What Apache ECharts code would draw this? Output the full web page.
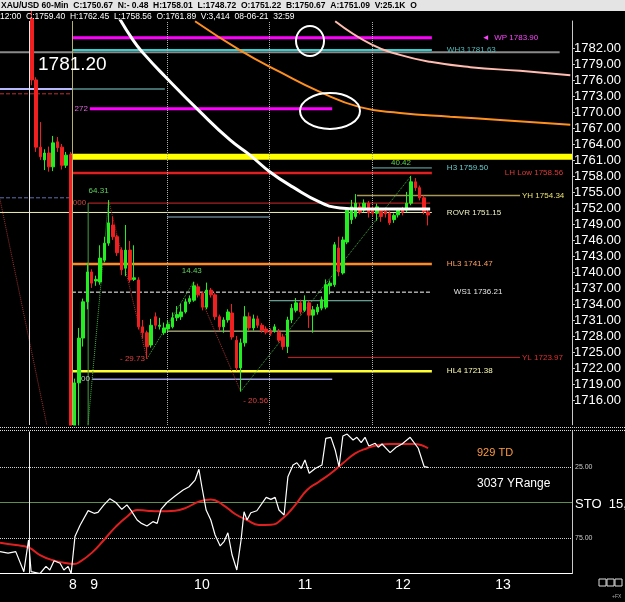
<!DOCTYPE html>
<html>
<head>
<meta charset="utf-8">
<script src="https://cdn.jsdelivr.net/npm/echarts@6/dist/echarts.min.js"></script>
<style>
  html, body { margin: 0; padding: 0; background: #000; }
  #main { width: 625px; height: 602px; }
</style>
</head>
<body>
<div id="main"></div>
<script>
// hourly bars, index 0 = first visible candle
const openPx = [1787.5,1776,1763.4,1761,1762.3,1759.7,1764.4,1763.4,1760,1762,1706,1719.2,1727.6,1734.4,1740,1738.3,1738.1,1742.2,1745.4,1748.8,1746.6,1744.1,1740.7,1744.1,1738.6,1738.5,1729.7,1728.6,1726.3,1731.6,1729.8,1728.6,1729.3,1729.7,1731.4,1731.6,1732.5,1734.4,1734.7,1737.2,1736,1733.4,1736.6,1735.7,1731.6,1729.7,1731,1732.3,1727.2,1722,1726.7,1731.6,1729.5,1731.2,1730,1729.3,1728.9,1729,1728.7,1727.8,1726,1731,1732.8,1734.2,1732.8,1734.2,1731.9,1732.5,1733.2,1733.4,1737.4,1737.6,1744.5,1739.8,1745.6,1749.8,1750.4,1752.2,1751.6,1752.9,1751.6,1751,1751.6,1751.4,1751,1749.8,1750.7,1751.8,1751.6,1752.9,1756.9,1755.8,1753.9,1751.22];
const closePx = [1776,1763.4,1761.6,1762.3,1759.7,1764.2,1763.3,1760,1761.9,1706,1719.2,1727.6,1734.4,1740,1737.9,1738.6,1742.6,1745.4,1749.2,1746.6,1743.6,1740.4,1744.1,1738.5,1738.9,1729.7,1728.6,1726,1730,1730,1730,1729.5,1730.2,1731.4,1732,1732.5,1734.4,1735,1737.4,1735.7,1733.4,1736.6,1735.7,1731.6,1729.7,1731,1732.5,1727.8,1722,1726.7,1731.6,1729.5,1731.2,1730,1729.1,1728.7,1728.5,1729.7,1727.2,1726,1731,1733.2,1734.2,1732.5,1734.6,1731.9,1732.9,1733.4,1734.8,1737.6,1737.9,1745.1,1740,1746,1751.6,1752.2,1752.9,1751.2,1752.9,1751.1,1751,1752.2,1750.4,1750.9,1749.2,1750.6,1751.6,1751.2,1752.9,1756.9,1755.8,1753.9,1751.3,1750.67];
const lowPx = [1775,1762.5,1761,1759.1,1758.8,1758.9,1762.5,1759.2,1759.5,1700,1689.14,1711,1726,1733,1737,1737.4,1737.6,1741.8,1744.9,1746,1743,1739.4,1739.2,1738,1738.3,1729.2,1727.5,1723.72,1725.8,1729.3,1729.2,1728.2,1728.8,1729.4,1730.8,1731,1732.2,1734,1734.4,1735.2,1732.8,1733,1735.2,1731,1729,1728.6,1730.5,1727.3,1721.5,1717.59,1726,1729,1729,1729.5,1728.6,1728.3,1728,1728.6,1726.8,1725.4,1724.8,1730.4,1732.4,1732,1732.5,1729.5,1728.6,1732,1732.8,1733,1735.8,1737.2,1739.2,1739.5,1745.2,1749,1750,1750.8,1751.2,1750.2,1750.4,1749.6,1749.4,1750.2,1748.8,1749.2,1750.2,1750.6,1751.2,1752.5,1755.2,1753.4,1750.8,1748.72];
const highPx = [1789,1776.5,1768.1,1763,1763.5,1765.5,1765.3,1764,1762.5,1762.5,1720,1729.5,1735,1741.7,1740.5,1739.3,1745,1746.6,1753.45,1750.4,1747,1744.6,1748.8,1745.8,1745,1739,1731,1729,1731.2,1732.4,1731.4,1730.5,1731,1732.4,1733.6,1734,1735,1735.6,1738.15,1737.8,1736.4,1738,1737,1736,1732,1731.5,1733,1734,1728,1727.5,1733.6,1732.4,1732,1731.8,1730.4,1729.8,1729.4,1730.2,1729.3,1728.4,1731.6,1734,1735.1,1734.8,1735.6,1734.6,1733.6,1734,1735.4,1738.6,1738.4,1745.6,1746.6,1746.6,1752,1753.5,1754.6,1752.9,1753.6,1753.3,1752.4,1752.8,1752,1752,1751.4,1751,1752,1752.2,1755,1758.01,1757.6,1756.2,1754.3,1751.8];

const lastPrice = 1750.67;
const priceTicks = [1716,1719,1722,1725,1728,1731,1734,1737,1740,1743,1746,1749,1752,1755,1758,1761,1764,1767,1770,1773,1776,1779,1782];
const dayLabels = ['8', '9', '10', '11', '12', '13'];
const dayAt = [9.6, 14.6, 39.9, 64.1, 87.1, 110.6];
const sessionBreaks = [31.7, 55.7, 79.9];
const cursorAt = -0.7;

// moving averages [bar, price]
const whiteMA = [[19.5,1789],[23.7,1783.5],[26.5,1780.7],[31.2,1776.7],[39.5,1770],[46.5,1764.75],[51.2,1761.9],[55.9,1758.75],[61.3,1755.9],[67.6,1753.1],[72.3,1752],[77,1751.8],[93.5,1751.8]];
const orangeMA = [[38.3,1787],[48.8,1781.6],[58.2,1777.5],[67.6,1773.75],[77,1770.9],[86.4,1769.8],[98.2,1769.1],[109.9,1768.5],[126.4,1767.6]];
const pinkMA = [[71.2,1787],[79.8,1782.6],[86.4,1780.7],[93.5,1779.4],[102.9,1778.4],[114.6,1777.7],[126.4,1776.9]];

// pivot levels
const levelNames = ['WP', 'WH3', 'H3', 'LH Low', 'YH', 'ROVR', 'HL3', 'WS1', 'YL', 'HL4'];
const levelValues = [1783.90, 1781.63, 1759.50, 1758.56, 1754.34, 1751.15, 1741.47, 1736.21, 1723.97, 1721.38];

// other drawn lines
const guideNames = ['1781.20', 'lav', 'lavTail', 'redDash', '272', 'yellow', 'blueDash', '000', 'blueShort', 'tealShort', 'creamShort', '100'];
const guideValues = [1781.20, 1774.3, 1774.3, 1773.4, 1770.6, 1761.6, 1753.9, 1752.9, 1750.3, 1734.6, 1728.9, 1719.9];

// zigzag swings
const swingBar = [10.6, 18, 27, 38, 49, 89];
const swingPrice = [1689.14, 1753.45, 1723.72, 1738.15, 1717.59, 1758.01];
const swingText = ['', '64.31', '- 29.73', '14.43', '- 20.56', '40.42'];

// stochastic panel (inverted scale)
const stoFast = [[-7.5,84.6],[-5.6,85.6],[-3.8,84.6],[-1.9,98.7],[-0.8,76.4],[-0.2,98.7],[1.9,100],[3.3,95],[4.2,97.5],[5.2,91],[6.6,92.8],[7.5,97.5],[8.5,95],[9.2,100],[10.1,74],[11.3,66],[13.2,55.7],[14.6,57.6],[15.5,57],[16.9,51.7],[18.3,47.3],[19.7,50],[21.1,54.8],[22.3,51.7],[23.3,55.7],[24.7,62.3],[25.6,64.5],[27,66.5],[28.4,63.5],[29.4,64.7],[30.3,54.8],[31.7,50],[33.6,45.4],[35.5,41.2],[36.9,38.9],[38.3,34.2],[39.2,26.6],[39.9,38.9],[40.9,55.3],[42,62.3],[43,72.9],[44.2,80.6],[45.1,77.6],[46,71.3],[47,87],[48.1,97.5],[49.1,76.4],[49.8,56.5],[50.5,62.3],[51.4,57.2],[52.8,55.8],[55,46.4],[56.1,47.8],[57.1,46.4],[58,55.3],[59.2,58.8],[60.1,31.8],[61.3,23.6],[62.2,22],[63.2,26],[64.1,20],[65.1,29.4],[66.5,26],[68.1,23.6],[69,4.8],[70.2,4.1],[71.2,13],[72.1,24.8],[73,3.2],[74,1.8],[75.4,6],[76.3,4.1],[77.3,7.9],[78.2,4.1],[79.1,10.2],[80.6,8.3],[81.3,11.1],[82.2,8.8],[84.1,14.9],[85.5,11.1],[86.9,8.8],[88.8,4.1],[90.7,11.8],[92.1,24.8],[93,25.2]];
const stoSlow = [[-7.5,78.3],[-3.8,80],[-0.9,81.5],[1.9,87],[4.7,90.5],[7.5,92.4],[9.9,93.3],[11.3,91.7],[14.1,85.3],[16.9,76.4],[19.7,67],[22.3,60],[24.7,55.3],[27,55.8],[29.8,56.2],[33.6,55.8],[36.4,53.4],[39.2,49.4],[42,47.8],[44.9,51.8],[47.7,58.1],[50.5,62.3],[53.3,65.8],[56.1,65.6],[58.9,61.1],[61.8,51.8],[64.6,41.2],[67.4,35.4],[70.2,29.4],[73,22.4],[75.9,15.4],[78.7,11.8],[81.3,9.5],[84.1,8.8],[86.9,8.8],[89.7,8.8],[93,11.8]];
const stoMarks = [25, 50, 75];

const headTop = 'XAU/USD 60-Min  C:1750.67  N:- 0.48  H:1758.01  L:1748.72  O:1751.22  B:1750.67  A:1751.09  V:25.1K  O';
const headSub = '12:00  C:1759.40  H:1762.45  L:1758.56  O:1761.89  V:3,414  08-06-21  32:59';

// ---- drawing setup ----
const X0 = -7.5, X1 = 126.8;
const SMALL = '"Liberation Sans", Arial, sans-serif';

const levelLook = {
  'WP':     { from: 9.4, to: 93.9, color: '#ff00ff', width: 3, text: '#ff44ff', gap: 50, pre: '\u25C4  ' },
  'WH3':    { from: 9.4, to: 93.9, color: '#30d0d0', width: 2, text: '#55bbbb', gap: 15 },
  'H3':     { from: 79.9, to: 93.9, color: '#70b8b8', width: 1, text: '#66cccc', gap: 15 },
  'LH Low': { from: 9.4, to: 93.9, color: '#e02020', width: 2.5, text: '#e03a3a', gap: 73 },
  'YH':     { from: 76.3, to: 114.6, color: '#a89858', width: 1.5, text: '#e8e070', gap: 2 },
  'ROVR':   { from: X0, to: 93.9, color: '#f0f0b0', width: 1, text: '#f0f0c0', gap: 15 },
  'HL3':    { from: 9.4, to: 93.9, color: '#ff8c20', width: 2.5, text: '#ffa060', gap: 15 },
  'WS1':    { from: 9.4, to: 93.9, color: '#ffffff', width: 1, text: '#e6e6e6', gap: 22, dash: 'dashed' },
  'YL':     { from: 60.1, to: 114.6, color: '#c82020', width: 1, text: '#e03030', gap: 2 },
  'HL4':    { from: 9.4, to: 93.9, color: '#ffff30', width: 2.5, text: '#ffffb0', gap: 15 }
};
const guideLook = {
  '1781.20':   { from: X0, to: 123.9, color: '#8a8a8a', width: 2 },
  'lav':       { from: X0, to: 9.4, color: '#b8b8ff', width: 2 },
  'lavTail':   { from: 9.4, to: 31.2, color: '#5a9090', width: 1.5 },
  'redDash':   { from: X0, to: 9.4, color: '#c03030', width: 1, dash: 'dashed' },
  '272':       { from: 13.6, to: 70.5, color: '#ff00ff', width: 3, left: '272', text: '#dd66dd' },
  'yellow':    { from: 9.0, to: X1, color: '#ffff00', width: 6 },
  'blueDash':  { from: X0, to: 9.4, color: '#6070b0', width: 1, dash: 'dashed' },
  '000':       { from: 13.2, to: 93.5, color: '#a82020', width: 1.2, left: '000', text: '#d04040' },
  'blueShort': { from: 31.7, to: 55.7, color: '#90b8d0', width: 1 },
  'tealShort': { from: 55.7, to: 79.9, color: '#80c8b8', width: 1 },
  'creamShort':{ from: 31.7, to: 79.9, color: '#e8e8a8', width: 1 },
  '100':       { from: 14.1, to: 70.5, color: '#a0a0e0', width: 1.5, left: '100', text: '#c8c8c8' }
};

function flatLine(name, price, look, endText) {
  const first = { value: [look.from, price] };
  const last = { value: [look.to, price] };
  if (look.left) {
    first.label = { show: true, position: 'left', distance: 2, formatter: look.left,
      color: look.text, fontSize: 8, fontFamily: SMALL };
  }
  if (endText) {
    last.label = { show: true, position: 'right', distance: look.gap, formatter: endText,
      color: look.text, fontSize: 8, fontFamily: SMALL };
  }
  return {
    name: name, type: 'line', xAxisIndex: 0, yAxisIndex: 0,
    data: [first, last], symbol: 'circle', symbolSize: 0, silent: true,
    lineStyle: { color: look.color, width: look.width, type: look.dash || 'solid' },
    z: 3, animation: false
  };
}

const series = [];

guideNames.forEach((n, k) => series.push(flatLine(n, guideValues[k], guideLook[n], null)));
levelNames.forEach((n, k) => {
  const look = levelLook[n];
  series.push(flatLine(n, levelValues[k], look, (look.pre || '') + n + ' ' + levelValues[k].toFixed(2)));
});

// fib anchor and old diagonal
series.push({
  type: 'line', data: [[13.2, 1752.9], [13.2, 1700]], symbol: 'none', silent: true, clip: true,
  lineStyle: { color: '#40a040', width: 1 }, z: 3, animation: false
});
series.push({
  type: 'line', data: [[X0, 1753.6], [3.5, 1711.3]], symbol: 'none', silent: true,
  lineStyle: { color: '#a03030', width: 1, type: 'dotted' }, z: 3, animation: false
});

// zigzag legs
for (let k = 0; k < swingBar.length - 1; k++) {
  const up = swingPrice[k + 1] > swingPrice[k];
  const end = { value: [swingBar[k + 1], swingPrice[k + 1]] };
  const lab = { show: true, formatter: swingText[k + 1], fontSize: 8, fontFamily: SMALL,
    color: up ? '#5fd25f' : '#e04040' };
  if (k === 0) Object.assign(lab, { position: 'top', offset: [-10, 0] });
  if (k === 1) Object.assign(lab, { position: 'left', distance: 2 });
  if (k === 2) Object.assign(lab, { position: 'top', offset: [-2, -2] });
  if (k === 3) Object.assign(lab, { position: 'bottom', offset: [15, 0] });
  if (k === 4) Object.assign(lab, { position: 'top', offset: [-10, -4] });
  end.label = lab;
  series.push({
    type: 'line', data: [[swingBar[k], swingPrice[k]], end], symbol: 'circle', symbolSize: 0,
    silent: true, clip: true, lineStyle: { color: up ? '#3fae3f' : '#b03030', width: 1, type: 'dotted' },
    z: 4, animation: false
  });
}

series.push({
  name: 'XAU/USD', type: 'candlestick', xAxisIndex: 0, yAxisIndex: 0,
  data: openPx.map((o, i) => [i, o, closePx[i], lowPx[i], highPx[i]]),
  encode: { x: 0, y: [1, 2, 3, 4] },
  barWidth: 3,
  clip: true,
  itemStyle: { color: '#22ee22', color0: '#f02020', borderColor: '#22ee22', borderColor0: '#f02020', borderWidth: 1 },
  z: 5, animation: false,
  markLine: {
    symbol: 'none', silent: true, animation: false,
    label: { show: false },
    data: sessionBreaks.map(v => ({ xAxis: v, lineStyle: { color: '#b0b0b0', type: 'dotted', width: 1 } }))
      .concat([
        { xAxis: cursorAt, lineStyle: { color: '#e8e8e8', type: 'solid', width: 1 } },
        { xAxis: 9.4, lineStyle: { color: '#b8b070', type: 'solid', width: 1 } },
        [
          { coord: [124.1, lastPrice], lineStyle: { opacity: 0 } },
          { coord: [124.7, lastPrice], label: {
              show: true, position: 'end', distance: 0,
              formatter: '{a|\u25C4}{b|' + lastPrice.toFixed(2) + '}',
              rich: {
                a: { color: '#fff', fontSize: 8, padding: [0, 2, 0, 0] },
                b: { color: '#000', backgroundColor: '#fff', fontSize: 13, fontFamily: SMALL, padding: [2, 2, 1, 2] }
              } } }
        ]
      ])
  }
});

series.push({
  type: 'line', data: orangeMA, smooth: true, symbol: 'none', silent: true,
  lineStyle: { color: '#ff9020', width: 2 }, z: 6, animation: false
});
series.push({
  type: 'line', data: pinkMA, smooth: true, symbol: 'none', silent: true,
  lineStyle: { color: '#ffbcb0', width: 2 }, z: 6, animation: false
});
series.push({
  type: 'line', data: whiteMA, smooth: true, symbol: 'none', silent: true,
  lineStyle: { color: '#ffffff', width: 3 }, z: 7, animation: false
});

// stochastic panel (drawn above the mask that hides candle overflow)
series.push({
  type: 'line', xAxisIndex: 1, yAxisIndex: 1, data: stoSlow, smooth: true, symbol: 'none', silent: true,
  lineStyle: { color: '#e02020', width: 2 }, z: 12, animation: false
});
series.push({
  type: 'line', xAxisIndex: 1, yAxisIndex: 1, data: stoFast, symbol: 'none', silent: true,
  lineStyle: { color: '#ffffff', width: 1.2 }, z: 13, animation: false,
  markLine: {
    z: 11, symbol: 'none', silent: true, animation: false, label: { show: false },
    data: stoMarks.map(v => ({ yAxis: v, lineStyle: v === 50
      ? { color: '#5f8f4f', type: 'solid', width: 1 }
      : { color: '#d0d0d0', type: 'dotted', width: 1 } }))
      .concat([{ xAxis: cursorAt, lineStyle: { color: '#e8e8e8', type: 'solid', width: 1 } }])
  }
});

const chart = echarts.init(document.getElementById('main'));
chart.setOption({
  backgroundColor: '#000',
  animation: false,
  grid: [
    { left: 0, right: 53, top: 21, height: 404 },
    { left: 0, right: 53, top: 431.5, height: 142 }
  ],
  xAxis: [
    { gridIndex: 0, type: 'value', min: X0, max: X1, show: false },
    {
      gridIndex: 1, type: 'value', min: X0, max: X1, z: 14,
      axisLine: { show: true, onZero: false, lineStyle: { color: '#ffffff', width: 1 } },
      axisTick: { show: false },
      splitLine: { show: false },
      axisLabel: {
        customValues: dayAt,
        formatter: v => dayLabels[dayAt.findIndex(d => Math.abs(d - v) < 0.01)],
        color: '#ffffff', fontSize: 14, fontFamily: SMALL, margin: 5
      }
    }
  ],
  yAxis: [
    {
      gridIndex: 0, type: 'value', position: 'right', min: 1711.3, max: 1787.05,
      axisLine: { show: true, onZero: false, lineStyle: { color: '#c8c8c8' } },
      axisTick: { show: true, length: 3, customValues: priceTicks, lineStyle: { color: '#c8c8c8' } },
      axisLabel: { customValues: priceTicks, formatter: v => v.toFixed(2), color: '#ffffff', fontSize: 13, fontFamily: SMALL, margin: 2 },
      splitLine: { show: false }
    },
    {
      gridIndex: 1, type: 'value', position: 'right', inverse: true, min: 0, max: 100, z: 14,
      axisLine: { show: true, onZero: false, lineStyle: { color: '#c8c8c8' } },
      axisTick: { show: false },
      axisLabel: { customValues: [25, 75], formatter: v => v.toFixed(2), color: '#cccccc', fontSize: 7, fontFamily: SMALL, margin: 3 },
      splitLine: { show: false }
    }
  ],
  graphic: [
    // mask under the lower panel so the big candle stops at the main pane
    { type: 'rect', shape: { x: 0, y: 425.5, width: 625, height: 177 }, style: { fill: '#000' }, z: 9, silent: true },
    { type: 'rect', shape: { x: 0, y: 0, width: 625, height: 11 }, style: { fill: '#e4e4e4' }, z: 100 },
    { type: 'text', x: 1, y: 1.5, style: { text: headTop, fill: '#000', font: 'bold 8.5px "Liberation Sans"' }, z: 101 },
    { type: 'text', x: 0, y: 12.5, style: { text: headSub, fill: '#fff', font: '8.5px "Liberation Sans"' }, z: 101 },
    { type: 'text', x: 38, y: 55, style: { text: '1781.20', fill: '#fff', font: '19px "Liberation Sans"' }, z: 101 },
    { type: 'ellipse', shape: { cx: 310, cy: 41, rx: 14, ry: 15 }, style: { stroke: '#fff', lineWidth: 2, fill: null }, z: 101 },
    { type: 'ellipse', shape: { cx: 330, cy: 111, rx: 30, ry: 18 }, style: { stroke: '#fff', lineWidth: 2, fill: null }, z: 101 },
    { type: 'line', shape: { x1: 0, y1: 427.5, x2: 625, y2: 427.5 }, style: { stroke: '#dddddd', lineWidth: 1, lineDash: [1, 1] }, z: 101 },
    { type: 'line', shape: { x1: 0, y1: 430.5, x2: 625, y2: 430.5 }, style: { stroke: '#dddddd', lineWidth: 1, lineDash: [1, 1] }, z: 101 },
    { type: 'text', x: 477, y: 447, style: { text: '929 TD', fill: '#ff9a40', font: '11px "Liberation Sans"' }, z: 101 },
    { type: 'text', x: 477, y: 478, style: { text: '3037 YRange', fill: '#fff', font: '12px "Liberation Sans"' }, z: 101 },
    { type: 'text', x: 575, y: 498, style: { text: 'STO  15,', fill: '#fff', font: '13px "Liberation Sans"' }, z: 101 },
    { type: 'rect', shape: { x: 599, y: 579, width: 7, height: 7 }, style: { stroke: '#ddd', fill: null, lineWidth: 1 }, z: 101 },
    { type: 'rect', shape: { x: 607, y: 579, width: 7, height: 7 }, style: { stroke: '#ddd', fill: null, lineWidth: 1 }, z: 101 },
    { type: 'rect', shape: { x: 615, y: 579, width: 7, height: 7 }, style: { stroke: '#ddd', fill: null, lineWidth: 1 }, z: 101 },
    { type: 'text', x: 612, y: 594, style: { text: '+FX', fill: '#aaa', font: '5px "Liberation Sans"' }, z: 101 }
  ],
  series: series
});
</script>
</body>
</html>
